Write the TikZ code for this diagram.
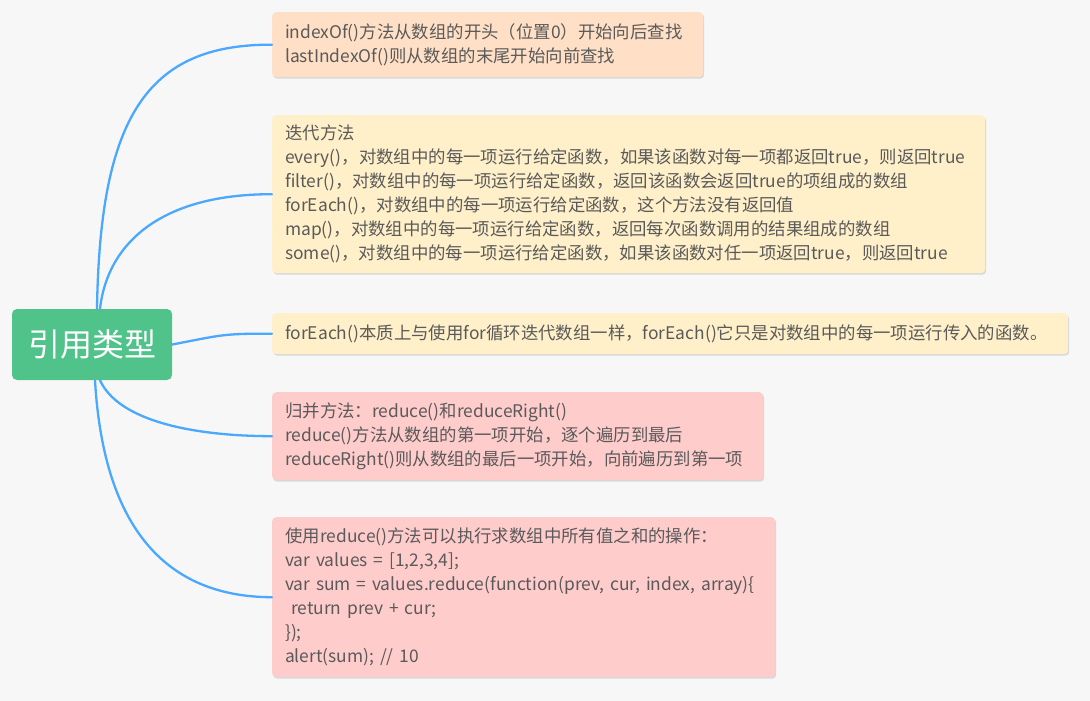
\documentclass[tikz,border=0pt]{standalone}
\usepackage{fontspec}
\setmainfont{Noto Sans CJK SC}
\usetikzlibrary{shadows}
\definecolor{bg}{HTML}{F7F7F7}
\definecolor{peach}{HTML}{FFE0C6}
\definecolor{cream}{HTML}{FFF0C9}
\definecolor{pinkbox}{HTML}{FFCCCC}
\definecolor{rootgreen}{HTML}{50C38B}
\definecolor{linkblue}{HTML}{4AA8FF}
\definecolor{txt}{HTML}{5A5A5A}
\tikzset{
  topic/.style={draw=none, rounded corners=4pt, anchor=north west, align=left,
    inner xsep=13pt, inner ysep=0pt, text=txt,
    font=\fontsize{17.4}{24}\selectfont,
    drop shadow={shadow xshift=1pt, shadow yshift=-1.5pt, fill=black, opacity=0.12}},
  link/.style={draw=linkblue, line width=2.3pt, line cap=round}
}
\begin{document}
\begin{tikzpicture}[x=1pt, y=-1pt]
\fill[bg] (0,0) rectangle (1090,701);
\useasboundingbox (0,0) rectangle (1090,701);

\node[fill=rootgreen, rounded corners=5pt, text=white, minimum width=160pt, minimum height=71pt,
  font=\fontsize{32}{36}\selectfont, inner sep=0pt] (root) at (92,344.5) {引用类型};

\node[topic, fill=peach, text width=405pt, minimum height=65pt] (b1) at (272,12)
  {indexOf()方法从数组的开头（位置0）开始向后查找\\lastIndexOf()则从数组的末尾开始向前查找};
\node[topic, fill=cream, text width=687pt, minimum height=158pt] (b2) at (272,115)
  {迭代方法\\every()，对数组中的每一项运行给定函数，如果该函数对每一项都返回true，则返回true\\filter()，对数组中的每一项运行给定函数，返回该函数会返回true的项组成的数组\\forEach()，对数组中的每一项运行给定函数，这个方法没有返回值\\map()，对数组中的每一项运行给定函数，返回每次函数调用的结果组成的数组\\some()，对数组中的每一项运行给定函数，如果该函数对任一项返回true，则返回true};
\node[topic, fill=cream, text width=770pt, minimum height=41pt] (b3) at (272,313)
  {forEach()本质上与使用for循环迭代数组一样，forEach()它只是对数组中的每一项运行传入的函数。};
\node[topic, fill=pinkbox, text width=465pt, minimum height=88pt] (b4) at (272,392)
  {归并方法：reduce()和reduceRight()\\reduce()方法从数组的第一项开始，逐个遍历到最后\\reduceRight()则从数组的最后一项开始，向前遍历到第一项};
\node[topic, fill=pinkbox, text width=477pt, minimum height=160pt] (b5) at (272,517)
  {使用reduce()方法可以执行求数组中所有值之和的操作：\\var values = [1,2,3,4];\\var sum = values.reduce(function(prev, cur, index, array)\{\\\ return prev + cur;\\\});\\alert(sum); // 10};

\coordinate (t1) at ([xshift=5pt]root.north);
\coordinate (t2) at ([xshift=8pt]root.north);
\coordinate (d1) at ([xshift=8pt]root.south);
\coordinate (d2) at ([xshift=3pt]root.south);

\draw[link] (t1) .. controls (100,120) and (145,44) .. (b1.west);
\draw[link] (t2) .. controls (108,240) and (165,194) .. (b2.west);
\draw[link] (root.east) .. controls (222,335) and (222,333.5) .. (b3.west);
\draw[link] (d1) .. controls (118,420) and (190,436) .. (b4.west);
\draw[link] (d2) .. controls (103,520) and (160,597) .. (b5.west);
\end{tikzpicture}
\end{document}
